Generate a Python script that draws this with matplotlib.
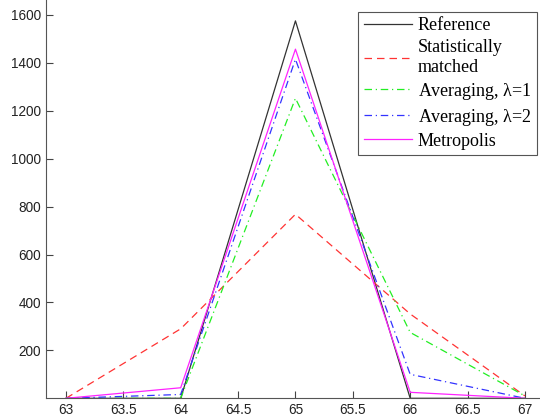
import numpy as np
import matplotlib
matplotlib.use("Agg")
import matplotlib.pyplot as plt

# data
x = [63, 64, 65, 66, 67]
reference = [0, 0, 1575, 0, 0]
stat_matched = [0, 290, 768, 352, 10]
averaging_1 = [0, 0, 1252, 275, 10]
averaging_2 = [0, 16, 1415, 100, 0]
metropolis = [0, 44, 1457, 25, 0]

labels = ['Reference', 'Statistically\nmatched', r'Averaging, $\lambda$=1',
          r'Averaging, $\lambda$=2', 'Metropolis']

xticks = np.arange(63, 67.01, 0.5)
yticks = np.arange(200, 1601, 200)

plt.rcParams['font.family'] = ['Liberation Sans', 'DejaVu Sans']
plt.rcParams['mathtext.fontset'] = 'custom'
plt.rcParams['mathtext.rm'] = 'Liberation Serif'
plt.rcParams['mathtext.it'] = 'Liberation Serif'

fig = plt.figure(figsize=(5.4, 4.2), dpi=100)
# axes run past the right and top edge, like the cropped original
ax = fig.add_axes([46 / 540, 21.7 / 420, 499 / 540, 403.3 / 420])

lw = 0.9
p1, = ax.plot(x, reference, color='#333333', lw=lw, ls='-')
p2, = ax.plot(x, stat_matched, color='#ff3333', lw=lw, ls=(0, (6, 4)))
p3, = ax.plot(x, averaging_1, color='#22ee22', lw=lw, ls=(0, (6, 3, 1, 3)))
p4, = ax.plot(x, averaging_2, color='#3333ff', lw=lw, ls=(0, (6, 3, 1, 3)))
p5, = ax.plot(x, metropolis, color='#ff22ff', lw=lw, ls='-')

ax.set_xlim(62.826, 67.175)
ax.set_ylim(0, 1683)
ax.set_xticks(xticks)
ax.set_xticklabels(['63', '63.5', '64', '64.5', '65', '65.5', '66', '66.5', '67'])
ax.set_yticks(yticks)
ax.tick_params(direction='in', length=5, width=0.8, colors='#444444',
               labelcolor='#222222', labelsize=9.8)
for s in ['left', 'bottom']:
    ax.spines[s].set_color('#555555')
    ax.spines[s].set_linewidth(0.8)
ax.spines['top'].set_visible(False)
ax.spines['right'].set_visible(False)

leg = ax.legend([p1, p2, p3, p4, p5], labels, loc='upper right',
                bbox_to_anchor=(537 / 540, 1 - 12 / 420),
                bbox_transform=fig.transFigure,
                prop={'family': 'Liberation Serif', 'size': 13},
                handlelength=2.7, handletextpad=0.3, labelspacing=0.27,
                borderpad=0.3, borderaxespad=0, fancybox=False,
                framealpha=1)
leg.get_frame().set_edgecolor('#555555')
leg.get_frame().set_linewidth(0.8)

fig.savefig('out.png', dpi=100)
